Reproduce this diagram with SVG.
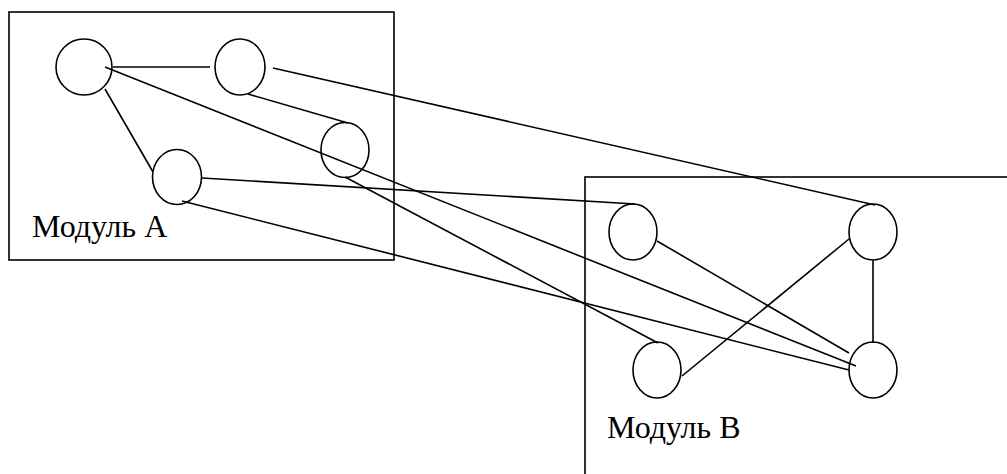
<svg xmlns="http://www.w3.org/2000/svg" width="1007" height="474" viewBox="0 0 1007 474">
<style>
.box{fill:none;stroke:#000;stroke-width:1.6}
.node{fill:none;stroke:#000;stroke-width:1.6}
.edge{stroke:#000;stroke-width:1.6;fill:none}
.lbl{font-family:"Liberation Serif","Times New Roman",serif;font-size:32px;fill:#000}
</style>
<rect width="1007" height="474" fill="#fff"/>
<g id="moduleA">
<rect class="box" x="9" y="12" width="385" height="248"/>
<text class="lbl" x="32" y="237">Модуль A</text>
</g>
<g id="moduleB">
<rect class="box" x="585" y="177" width="440" height="320"/>
<text class="lbl" x="607" y="438">Модуль B</text>
</g>
<g id="connectors">
<line class="edge" x1="113" y1="67" x2="210" y2="67"/>
<line class="edge" x1="105" y1="67" x2="856" y2="366"/>
<line class="edge" x1="105" y1="89" x2="153" y2="172"/>
<line class="edge" x1="273" y1="68" x2="875" y2="205"/>
<line class="edge" x1="248" y1="94" x2="348" y2="123"/>
<line class="edge" x1="345" y1="177" x2="658" y2="343"/>
<line class="edge" x1="202" y1="178" x2="635" y2="204"/>
<line class="edge" x1="182" y1="201" x2="849" y2="370"/>
<line class="edge" x1="657" y1="241" x2="849" y2="353"/>
<line class="edge" x1="682" y1="376" x2="849" y2="239"/>
<line class="edge" x1="873" y1="260" x2="873" y2="343"/>
</g>
<g id="a1"><ellipse class="node" cx="84" cy="67" rx="28" ry="28"/></g>
<g id="a2"><ellipse class="node" cx="240" cy="67" rx="25" ry="28"/></g>
<g id="a3"><ellipse class="node" cx="345" cy="150" rx="24" ry="27.5"/></g>
<g id="a4"><ellipse class="node" cx="177" cy="177" rx="24.5" ry="27.5"/></g>
<g id="b1"><ellipse class="node" cx="633" cy="232" rx="24" ry="28"/></g>
<g id="b2"><ellipse class="node" cx="873" cy="232" rx="24" ry="28"/></g>
<g id="b3"><ellipse class="node" cx="657" cy="370" rx="24" ry="28"/></g>
<g id="b4"><ellipse class="node" cx="873" cy="370" rx="24" ry="28"/></g>
</svg>
